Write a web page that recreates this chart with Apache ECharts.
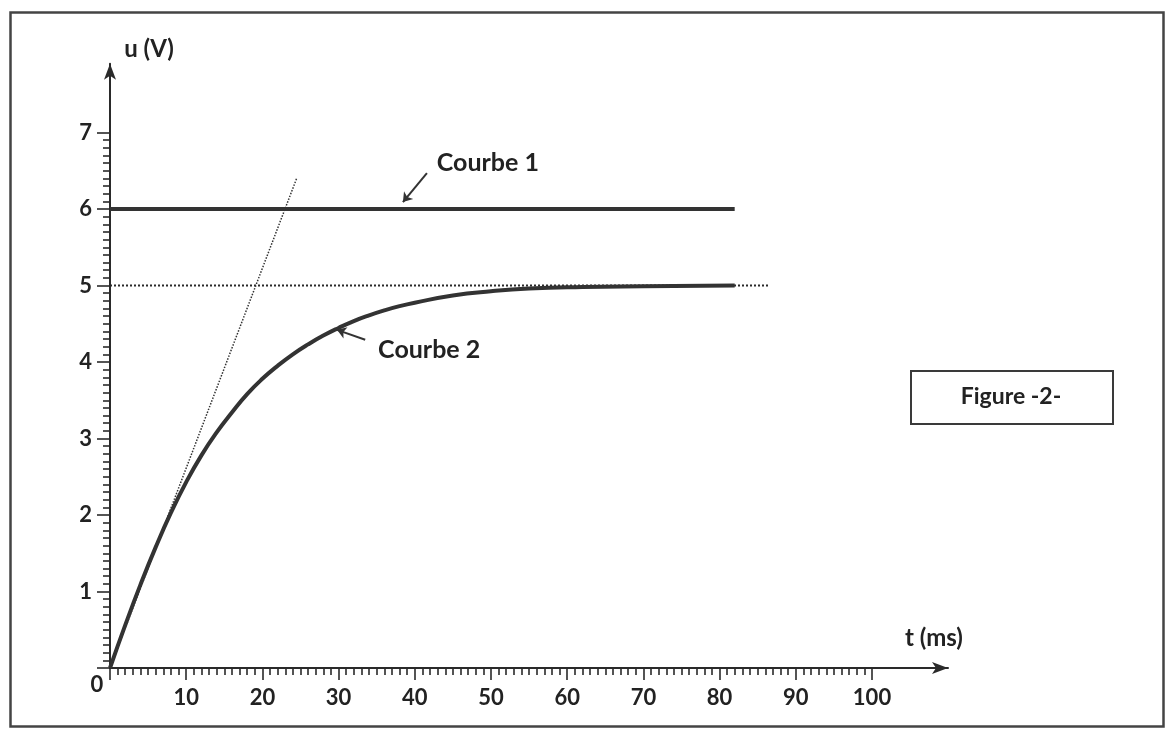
<!DOCTYPE html>
<html>
<head>
<meta charset="utf-8">
<script src="https://cdn.jsdelivr.net/npm/echarts@6/dist/echarts.min.js"></script>
<style>
  html, body { margin: 0; padding: 0; background: #fff; }
  #chart { width: 1167px; height: 732px; }
</style>
</head>
<body>
<div id="chart"></div>
<script>
// ---- data ----
const xTickLabels = [0, 10, 20, 30, 40, 50, 60, 70, 80, 90, 100];
const yTickLabels = [0, 1, 2, 3, 4, 5, 6, 7];
// Courbe 1 : constant 6 V
const courbe1T = [0, 82];
const courbe1U = [6, 6];
// Courbe 2 : charge curve
const courbe2T = [0, 2, 4, 6, 8, 10, 12, 14, 16, 18, 20, 22, 24, 26, 28, 30, 32, 34, 36, 38, 40, 45, 50, 55, 62, 70, 82];
const courbe2U = [0, 0.56, 1.09, 1.58, 2.03, 2.43, 2.78, 3.08, 3.34, 3.58, 3.78, 3.95, 4.10, 4.23, 4.345, 4.445, 4.535, 4.61, 4.675, 4.73, 4.775, 4.87, 4.925, 4.96, 4.98, 4.99, 5.0];
// asymptote u = 5 V (dotted)
const asymT = [0, 86.6];
const asymU = [5, 5];
// tangent at origin (dotted)
const tangT = [0, 24.5];
const tangU = [0, 6.4];
// annotation arrows  [t0,u0] -> [t1,u1]
const arrow1 = [[41.6, 6.47], [38.45, 6.09]];
const arrow2 = [[33.5, 4.29], [29.8, 4.42]];
// annotation text anchors (centre)
const labelCourbe1 = [49.6, 6.60];
const labelCourbe2 = [41.9, 4.16];

const pair = (ts, us) => ts.map((t, i) => [t, us[i]]);

const ink = '#222222';
const font = 'Lato, "Open Sans", sans-serif';

const chart = echarts.init(document.getElementById('chart'), null, { renderer: 'canvas' });

const option = {
  backgroundColor: '#ffffff',
  animation: false,
  grid: [
    { left: 110, top: 63.65, width: 838, height: 604.35, containLabel: false, outerBoundsMode: 'none' },
    { left: 110, top: 132.5, width: 762, height: 535.5, containLabel: false, outerBoundsMode: 'none' }
  ],
  xAxis: [
    {
      gridIndex: 0, type: 'value', min: 0, max: 110,
      axisLine: { show: true, symbol: ['none', 'arrow'], symbolSize: [9, 16], lineStyle: { color: '#2a2a2a', width: 2 } },
      axisTick: { show: false }, axisLabel: { show: false }, splitLine: { show: false },
      name: 't (ms)', nameLocation: 'end', nameGap: -43, nameMoveOverlap: false,
      nameTextStyle: { fontFamily: font, fontWeight: 'bold', fontSize: 24, color: ink, align: 'left', verticalAlign: 'bottom', lineHeight: 60 }
    },
    {
      gridIndex: 1, type: 'value', min: 0, max: 100, interval: 10,
      axisLine: { show: false },
      axisTick: { show: true, length: 12, lineStyle: { color: '#2a2a2a', width: 1.6 } },
      minorTick: { show: true, splitNumber: 10, length: 7, lineStyle: { color: '#2a2a2a', width: 1.6 } },
      axisLabel: { show: true, hideOverlap: false, margin: 19, fontFamily: font, fontWeight: 'bold', fontSize: 22, color: ink,
        formatter: v => (v === xTickLabels[0] ? '' : String(v)) },
      splitLine: { show: false }
    }
  ],
  yAxis: [
    {
      gridIndex: 0, type: 'value', min: 0, max: 7.9,
      axisLine: { show: true, symbol: ['none', 'arrow'], symbolSize: [9, 16], lineStyle: { color: '#2a2a2a', width: 2 } },
      axisTick: { show: false }, axisLabel: { show: false }, splitLine: { show: false },
      name: 'u (V)', nameLocation: 'end', nameGap: 0, nameMoveOverlap: false,
      nameTextStyle: { fontFamily: font, fontWeight: 'bold', fontSize: 24, color: ink, align: 'center', lineHeight: 28, padding: [0, 0, 0, 78] }
    },
    {
      gridIndex: 1, type: 'value', min: 0, max: 7, interval: 1,
      axisLine: { show: false },
      axisTick: { show: true, length: 13, lineStyle: { color: '#2a2a2a', width: 1.6 } },
      minorTick: { show: true, splitNumber: 10, length: 7, lineStyle: { color: '#2a2a2a', width: 1.6 } },
      axisLabel: { show: true, hideOverlap: false, margin: 18, fontFamily: font, fontWeight: 'bold', fontSize: 22, color: ink,
        formatter: v => (v === yTickLabels[0] ? '' : String(v)) },
      splitLine: { show: false }
    }
  ],
  series: [
    {
      name: 'asymptote', type: 'line', xAxisIndex: 0, yAxisIndex: 0, data: pair(asymT, asymU),
      showSymbol: false, symbol: 'none', lineStyle: { color: '#2a2a2a', width: 2, type: [2, 2] }, z: 2, silent: true
    },
    {
      name: 'tangente', type: 'line', xAxisIndex: 0, yAxisIndex: 0, data: pair(tangT, tangU),
      showSymbol: false, symbol: 'none', lineStyle: { color: '#333333', width: 1.5, type: [1.5, 1.5] }, z: 2, silent: true
    },
    {
      name: 'Courbe 1', type: 'line', xAxisIndex: 0, yAxisIndex: 0, data: pair(courbe1T, courbe1U),
      showSymbol: false, symbol: 'none', lineStyle: { color: '#333333', width: 4 }, z: 3
    },
    {
      name: 'Courbe 2', type: 'line', xAxisIndex: 0, yAxisIndex: 0, data: pair(courbe2T, courbe2U),
      smooth: 0.5, showSymbol: false, symbol: 'none', lineStyle: { color: '#333333', width: 4 }, z: 3
    },
    {
      name: 'flèches', type: 'lines', coordinateSystem: 'cartesian2d', xAxisIndex: 0, yAxisIndex: 0,
      symbol: ['none', 'arrow'], symbolSize: 9,
      lineStyle: { color: '#333333', width: 2, opacity: 1, curveness: 0 },
      data: [{ coords: arrow1 }, { coords: arrow2 }], z: 4
    },
    {
      name: 'textes', type: 'scatter', xAxisIndex: 0, yAxisIndex: 0, symbolSize: 0,
      itemStyle: { opacity: 1, color: ink },
      data: [
        { value: labelCourbe1, label: { formatter: 'Courbe 1' } },
        { value: labelCourbe2, label: { formatter: 'Courbe 2' } },
        { value: [xTickLabels[0], yTickLabels[0]], label: { formatter: '0', offset: [-13, 17], fontSize: 22 } }
      ],
      label: { show: true, position: 'inside', fontFamily: font, fontWeight: 'bold', fontSize: 25, color: ink, opacity: 1 },
      z: 5, silent: true
    }
  ],
  graphic: [
    { type: 'rect', left: 8, top: 10, shape: { width: 1153, height: 714 }, style: { fill: 'none', stroke: '#444', lineWidth: 2.5 }, silent: true },
    { type: 'rect', left: 910, top: 370, shape: { width: 202, height: 53 }, style: { fill: '#fff', stroke: '#3a3a3a', lineWidth: 2 }, silent: true },
    { type: 'text', x: 1011, y: 397, silent: true,
      style: { text: 'Figure -2-', align: 'center', verticalAlign: 'middle', font: 'bold 23px Lato, "Open Sans", sans-serif', fill: ink } }
  ]
};

chart.setOption(option);
</script>
</body>
</html>
